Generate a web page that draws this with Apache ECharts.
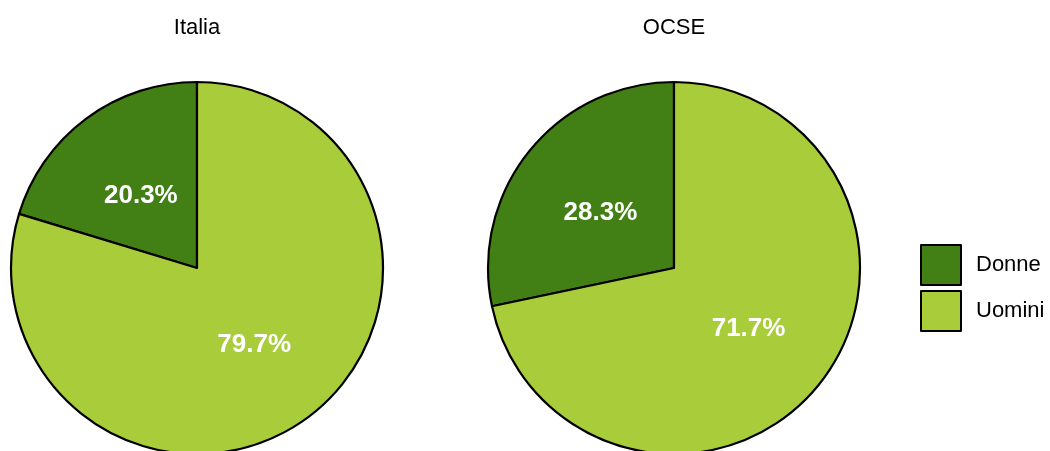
<!DOCTYPE html>
<html>
<head>
<meta charset="utf-8">
<script src="https://cdn.jsdelivr.net/npm/echarts@6/dist/echarts.min.js"></script>
<style>
  html, body { margin: 0; padding: 0; background: #fff; }
  #chart { width: 1050px; height: 451px; }
</style>
</head>
<body>
<div id="chart"></div>
<script>
const categories = ["Donne", "Uomini"];
const italiaValues = [20.3, 79.7];
const ocseValues = [28.3, 71.7];
const panelTitles = ["Italia", "OCSE"];

const colors = ["#428015", "#a8cc3a"];
const font = "Liberation Sans, Arial, sans-serif";

const chart = echarts.init(document.getElementById("chart"), null, { renderer: "canvas" });

function pieSeries(name, values, cx) {
  return {
    name, type: "pie",
    center: [cx, 268], radius: [0, 186],
    startAngle: 90, clockwise: false,
    silent: true,
    itemStyle: { borderColor: "#000", borderWidth: 2.2 },
    label: {
      show: true, position: "inside", color: "#fff",
      fontFamily: font, fontSize: 26, fontWeight: "bold",
      formatter: p => p.value.toFixed(1) + "%"
    },
    labelLine: { show: false },
    emphasis: { disabled: true },
    data: categories.map((c, i) => ({
      name: c, value: values[i],
      // the small slice's label sits a little lower in the original
      label: i === 0 ? { offset: [1, 5] } : undefined
    }))
  };
}

const titleText = { fontFamily: font, fontSize: 22, fontWeight: "normal", color: "#000" };

chart.setOption({
  animation: false,
  color: colors,
  title: [
    { text: panelTitles[0], left: 192, top: 12, textAlign: "center", textStyle: titleText },
    { text: panelTitles[1], left: 669, top: 12, textAlign: "center", textStyle: titleText }
  ],
  legend: {
    orient: "vertical", left: 915, top: 239,
    icon: "rect", itemWidth: 40, itemHeight: 40, itemGap: 4,
    itemStyle: { borderColor: "#000", borderWidth: 2 },
    textStyle: { fontFamily: font, fontSize: 22, color: "#000", padding: [0, 0, 0, 10] },
    data: categories
  },
  series: [
    pieSeries(panelTitles[0], italiaValues, 197),
    pieSeries(panelTitles[1], ocseValues, 674)
  ]
});
</script>
</body>
</html>
